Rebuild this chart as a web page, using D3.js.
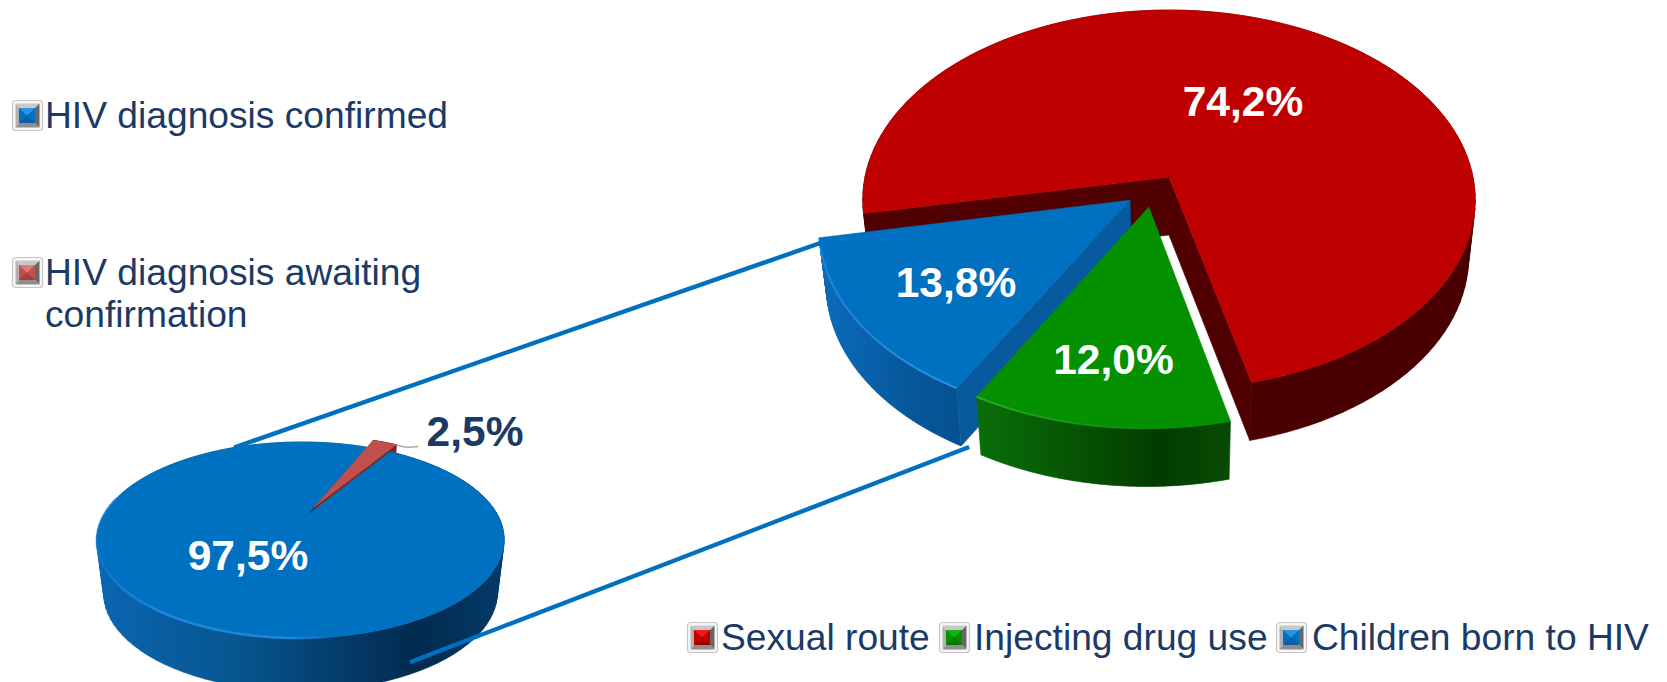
<!DOCTYPE html>
<html><head><meta charset="utf-8">
<script src="https://cdnjs.cloudflare.com/ajax/libs/d3/7.8.5/d3.min.js"></script>
<style>html,body{margin:0;padding:0;background:#fff;overflow:hidden}svg{display:block}text{font-family:"Liberation Sans",Arial,sans-serif}</style>
</head><body><svg id="c" width="1667" height="682"></svg>
<script>
// ---- data ----
const confirmCategories = ["HIV diagnosis confirmed", "HIV diagnosis awaiting confirmation"];
const confirmValues = [97.5, 2.5];
const confirmLabels = ["97,5%", "2,5%"];
const routeCategories = ["Sexual route", "Injecting drug use", "Children born to HIV"];
const routeValues = [74.2, 12.0, 13.8];
const routeLabels = ["74,2%", "12,0%", "13,8%"];

// ---- styling ----
const ink = "#1b3a66";
const rad = d => d * Math.PI / 180;
const svg = d3.select("#c");
const defs = svg.append("defs");
function grad(id, x1, x2, stops) {
  const g = defs.append("linearGradient").attr("id", id).attr("gradientUnits", "userSpaceOnUse")
    .attr("x1", x1).attr("x2", x2).attr("y1", 0).attr("y2", 0);
  stops.forEach(s => g.append("stop").attr("offset", s[0]).attr("stop-color", s[1]).attr("stop-opacity", s[2] === undefined ? 1 : s[2]));
}
grad("wallL", 96, 505, [[0, "#0a66b2"], [.35, "#07558f"], [.78, "#022a50"], [1, "#033a68"]]);
grad("rimL", 96, 340, [[0, "#1e86dc", .3], [.25, "#1e86dc"], [.8, "#1e86dc"], [1, "#1e86dc", 0]]);
grad("wallB", 820, 965, [[0, "#0b6cbc"], [.6, "#07589c"], [1, "#054f90"]]);
grad("rimB", 820, 958, [[0, "#2a92e6", .6], [1, "#2a92e6"]]);
grad("wallG", 980, 1236, [[0, "#0a6e08"], [.7, "#023c00"], [1, "#074c05"]]);
grad("rimG", 980, 1236, [[0, "#2ba82a"], [.45, "#1b9a18", .6], [1, "#058f00", 0]]);

const lineGen = d3.line();

// A projected tilted disc: pie angles go through this perspective mapping.
function disc(o) {
  const P = (ang, r, ex, ey, depth) => {
    const c = (ex || 0) + r * Math.sin(ang), s = (ey || 0) - r * Math.cos(ang);
    const w = 1 - o.k * s + (o.m || 0) * c;
    const f = depth ? o.shrink : 1;
    return [o.cx + f * o.rx * c / w, o.cy + o.ry * s / w + (depth || 0)];
  };
  const arcPts = (a0, a1, ex, ey, depth) =>
    d3.range(0, 1.0001, 1 / 120).map(t => P(a0 + (a1 - a0) * t, 1, ex, ey, depth));
  return {P, arcPts, depth: o.depth};
}
function poly(g, pts, fill) {
  return g.append("path").attr("d", lineGen(pts) + "Z").attr("fill", fill).attr("stroke", fill).attr("stroke-width", .6);
}
// Outer wall: a ruled surface of consistently wound quads between the top and bottom rims.
function rimWall(g, D, sl, ex, ey, fill) {
  const top = D.arcPts(sl.startAngle, sl.endAngle, ex, ey, 0);
  const bot = D.arcPts(sl.startAngle, sl.endAngle, ex, ey, D.depth);
  const quads = top.slice(1).map((p, i) => {
    const q = [top[i], p, bot[i + 1], bot[i]];
    return lineGen(d3.polygonArea(q) < 0 ? q.reverse() : q) + "Z";
  });
  g.append("path").attr("d", quads.join("")).attr("fill", fill).attr("stroke", fill).attr("stroke-width", .6);
}
function cutWall(g, D, ang, ex, ey, fill) {
  poly(g, [D.P(0, 0, ex, ey, 0), D.P(ang, 1, ex, ey, 0), D.P(ang, 1, ex, ey, D.depth), D.P(0, 0, ex, ey, D.depth)], fill);
}
function topFace(g, D, sl, ex, ey, fill) {
  poly(g, [D.P(0, 0, ex, ey, 0)].concat(D.arcPts(sl.startAngle, sl.endAngle, ex, ey, 0)), fill);
}
function rimLine(g, D, a0, a1, ex, ey, stroke, w) {
  g.append("path").attr("d", lineGen(D.arcPts(a0, a1, ex, ey, 0))).attr("fill", "none")
    .attr("stroke", stroke).attr("stroke-width", w);
}

const L = disc({cx: 305, cy: 517, rx: 198, ry: 92.6, k: .235, m: .022, shrink: .966, depth: 53});
const R = disc({cx: 1169, cy: 177, rx: 304, ry: 187, k: .12, shrink: .978, depth: 58});

const leftPie = d3.pie().sort(null).startAngle(rad(31.4)).endAngle(rad(391.4))(confirmValues);
const rightPie = d3.pie().sort(null).startAngle(rad(259)).endAngle(rad(619))(routeValues);
const offsets = {red: [.05, -.115], green: [-.065, .158], blue: [-.126, .122]};

// ---- connector lines (behind the pies) ----
const [rS, gS, bS] = rightPie;
const line1 = [L.P(rad(334.5), 1, 0, 0, 0), R.P(bS.endAngle, 1, ...offsets.blue, 3)];
const line2Start = L.P(rad(154), 1, 0, 0, 41);
const line2End = R.P(bS.startAngle, 1, ...offsets.blue, R.depth);
const connectors = svg.append("g");
connectors.append("path").attr("d", lineGen(line1)).attr("stroke", "#0070c0").attr("stroke-width", 4.4).attr("fill", "none");

// ---- right pie ----
const gr = svg.append("g");
rimWall(gr, R, rS, 0, 0, "#4a0000");
cutWall(gr, R, rS.startAngle, 0, 0, "#500000");
cutWall(gr, R, rS.endAngle, 0, 0, "#500000");
topFace(gr, R, rS, 0, 0, "#bf0000");

rimWall(gr, R, bS, ...offsets.blue, "url(#wallB)");
cutWall(gr, R, bS.startAngle, ...offsets.blue, "#085a9e");
topFace(gr, R, bS, ...offsets.blue, "#0070c0");
rimLine(gr, R, bS.startAngle, bS.endAngle, ...offsets.blue, "url(#rimB)", 2);

rimWall(gr, R, gS, ...offsets.green, "url(#wallG)");
topFace(gr, R, gS, ...offsets.green, "#059000");
rimLine(gr, R, gS.startAngle, gS.endAngle, ...offsets.green, "url(#rimG)", 2);

// ---- left pie ----
const gl = svg.append("g");
const [lB, lR] = leftPie;
rimWall(gl, L, lB, 0, 0, "url(#wallL)");
cutWall(gl, L, lB.startAngle, 0, 0, "#0a3a6a");
cutWall(gl, L, lB.endAngle, 0, 0, "#0a3a6a");
rimWall(gl, L, lR, ...offsets.red, "#8c2f2c");
cutWall(gl, L, lR.endAngle, ...offsets.red, "#7a2522");
topFace(gl, L, lB, 0, 0, "#0070c0");
rimLine(gl, L, rad(145), rad(282), 0, 0, "url(#rimL)", 2.5);
topFace(gl, L, lR, ...offsets.red, "#c0504d");

connectors.raise();
connectors.append("path").attr("d", lineGen([line2Start, [line2End[0] + 8, line2End[1] + 1]]))
  .attr("stroke", "#0070c0").attr("stroke-width", 4.4).attr("fill", "none");

// leader for the small slice
const leaderA = L.P(lR.endAngle, 1, ...offsets.red, 0);
svg.append("path").attr("d", d3.line().curve(d3.curveBasis)([leaderA, [leaderA[0] + 9, leaderA[1] + 3], [leaderA[0] + 22, leaderA[1] + 2]]))
  .attr("fill", "none").attr("stroke", "#a9a9a9").attr("stroke-width", 1.5);

// ---- value labels ----
function label(t, x, y, fill) {
  svg.append("text").attr("x", x).attr("y", y).attr("text-anchor", "middle").attr("font-size", 42.5)
    .attr("font-weight", "bold").attr("fill", fill).text(t);
}
label(routeLabels[0], 1243, 116, "#fff");
label(routeLabels[1], 1113.5, 374, "#fff");
label(routeLabels[2], 956, 297, "#fff");
label(confirmLabels[0], 248, 570, "#fff");
label(confirmLabels[1], 475, 446, ink);

// ---- legends ----
function swatch(x, y, col, lite, dark) {
  const g = svg.append("g").attr("transform", `translate(${x},${y})`);
  const S = 30, a = 1.5, b = 8, e = S - 8, f = S - 1.5;
  g.append("rect").attr("x", .5).attr("y", .5).attr("width", S).attr("height", S).attr("rx", 3)
    .attr("fill", "#f6f6f6").attr("stroke", "#c6c6c6").attr("stroke-width", 1.2);
  const q = (pts, fill) => g.append("path").attr("d", lineGen(pts) + "Z").attr("fill", fill);
  q([[a + 2, a + 2], [f - 1, a + 2], [e + 1, b], [b - 1, b]], "#c9c9c9");
  q([[f - 1, a + 2], [f - 1, f - 1], [e + 1, e + 1], [e + 1, b]], "#666");
  q([[a + 2, f - 1], [f - 1, f - 1], [e + 1, e + 1], [b - 1, e + 1]], "#8e8e8e");
  q([[a + 2, a + 2], [a + 2, f - 1], [b - 1, e + 1], [b - 1, b]], "#b2b2b2");
  const m = (b - 1 + e + 1) / 2, my = (b + e + 1) / 2;
  q([[b - 1, b], [e + 1, b], [e + 1, e + 1], [b - 1, e + 1]], col);
  q([[b - 1, b], [e + 1, b], [m, my]], lite);
  q([[b - 1, e + 1], [e + 1, e + 1], [m, my]], dark);
}
function legendText(t, x, y) {
  svg.append("text").attr("x", x).attr("y", y).attr("font-size", 37.2).attr("fill", ink).text(t);
}
swatch(12, 100, "#0070c0", "#2a94e4", "#0a5ea6");
legendText(confirmCategories[0], 45, 128);
swatch(12, 257, "#c0504d", "#e07a76", "#a53f3c");
legendText("HIV diagnosis awaiting", 45, 285);
legendText("confirmation", 45, 327);

swatch(687, 622, "#c00000", "#ee1c1c", "#a00000");
legendText(routeCategories[0], 721, 650);
swatch(939, 622, "#059000", "#12b30f", "#047a00");
legendText(routeCategories[1], 974, 650);
swatch(1276, 622, "#0070c0", "#2a94e4", "#0a5ea6");
legendText(routeCategories[2], 1312, 650);
</script></body></html>
